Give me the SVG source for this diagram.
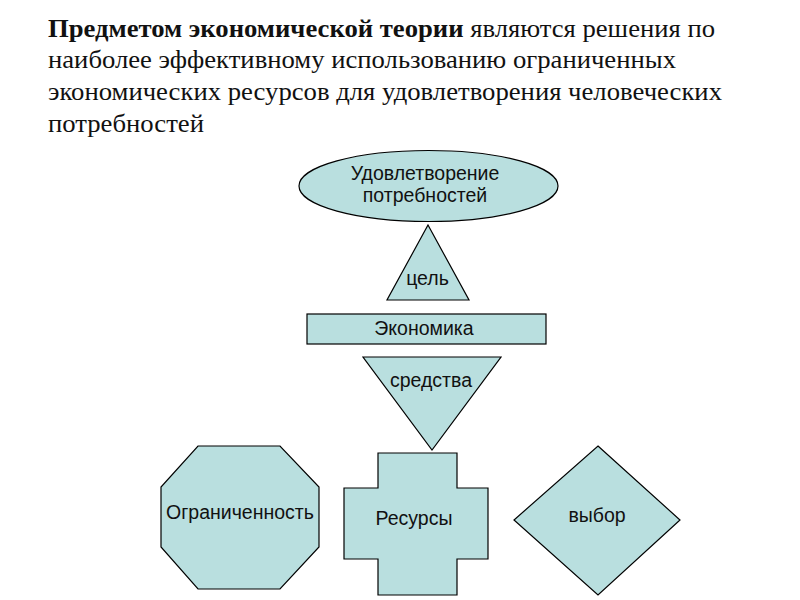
<svg xmlns="http://www.w3.org/2000/svg" width="800" height="600" viewBox="0 0 800 600">
<style>
.shape{fill:#b9dfdf;stroke:#000;stroke-width:1.2}
.lbl{font-family:"Liberation Sans",Arial,sans-serif;font-size:19.5px;fill:#111;text-anchor:middle}
.title{font-family:"Liberation Serif","Times New Roman",serif;font-size:25px;fill:#111}
</style>
<rect width="800" height="600" fill="#fff"/>
<g id="title">
<text class="title" x="48" y="37" textLength="667" lengthAdjust="spacingAndGlyphs"><tspan font-weight="bold">Предметом экономической теории</tspan> являются решения по</text>
<text class="title" x="48" y="68" textLength="628" lengthAdjust="spacingAndGlyphs">наиболее эффективному использованию ограниченных</text>
<text class="title" x="48" y="100" textLength="674" lengthAdjust="spacingAndGlyphs">экономических ресурсов для удовлетворения человеческих</text>
<text class="title" x="48" y="132" textLength="156" lengthAdjust="spacingAndGlyphs">потребностей</text>
</g>
<g id="connectors"></g>
<g id="need">
<ellipse class="shape" cx="428.5" cy="186" rx="129.5" ry="35.5"/>
<text class="lbl" x="425" y="180">Удовлетворение</text>
<text class="lbl" x="425" y="202">потребностей</text>
</g>
<g id="goal">
<polygon class="shape" points="428,225 469,300 387,300"/>
<text class="lbl" x="427.5" y="285">цель</text>
</g>
<g id="economy">
<rect class="shape" x="307" y="314" width="239" height="30"/>
<text class="lbl" x="424" y="335">Экономика</text>
</g>
<g id="means">
<polygon class="shape" points="363,357 501,357 432,450"/>
<text class="lbl" x="431" y="387">средства</text>
</g>
<g id="limit">
<polygon class="shape" points="198,446 280,446 319,487 319,547 280,589 198,589 161,547 161,487"/>
<text class="lbl" x="240" y="519">Ограниченность</text>
</g>
<g id="resources">
<polygon class="shape" points="378,453 457,453 457,488 488,488 488,559 457,559 457,595 378,595 378,559 344,559 344,488 378,488"/>
<text class="lbl" x="414" y="525">Ресурсы</text>
</g>
<g id="choice">
<polygon class="shape" points="598,446 680,520 598,595 514,520"/>
<text class="lbl" x="597" y="522">выбор</text>
</g>
</svg>
